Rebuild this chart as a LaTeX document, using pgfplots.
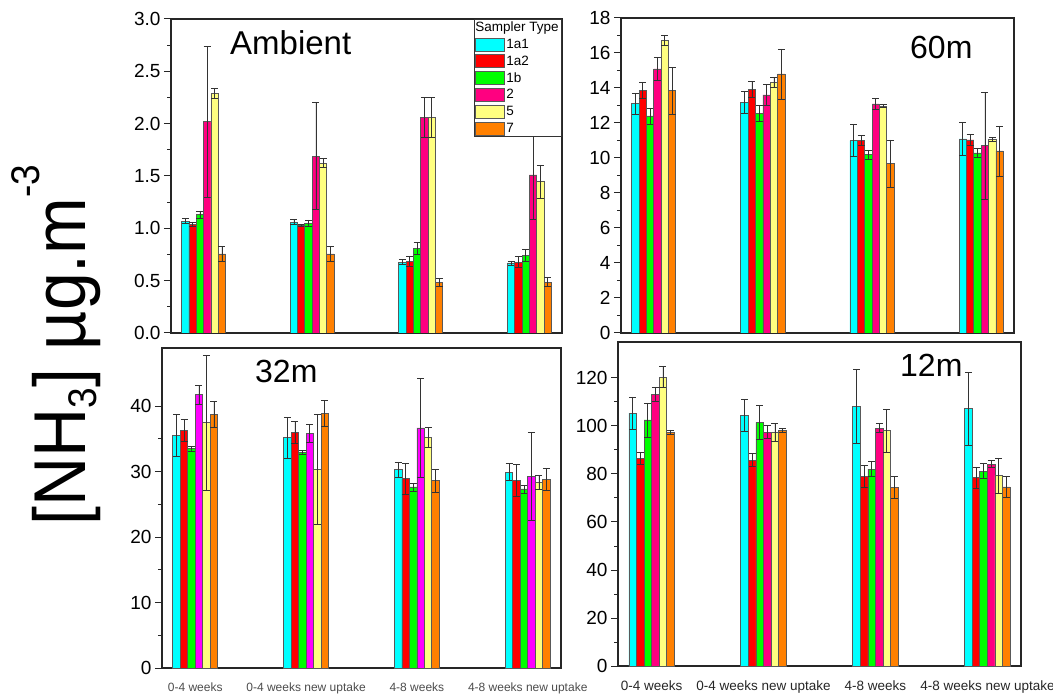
\documentclass[border=0pt]{standalone}
\usepackage{pgfplots}
\pgfplotsset{compat=1.18}
\usepackage{pgfplotstable}
\usepackage{fontspec}
\setmainfont{Liberation Sans}

\definecolor{cA}{RGB}{0,255,255}
\definecolor{cB}{RGB}{255,0,0}
\definecolor{cC}{RGB}{0,255,0}
\definecolor{cD}{RGB}{255,0,128}
\definecolor{cDm}{RGB}{255,0,255}
\definecolor{cE}{RGB}{255,255,128}
\definecolor{cF}{RGB}{255,128,0}

% x a1 ea1 a2 ea2 b eb s2 e2 s5 e5 s7 e7
\pgfplotstableread{
x a1 ea1 a2 ea2 b eb s2 e2 s5 e5 s7 e7
0 1.07 0.025 1.04 0.02 1.13 0.03 2.02 0.72 2.29 0.045 0.755 0.075
1 1.06 0.025 1.03 0.01 1.05 0.03 1.69 0.51 1.624 0.04 0.755 0.075
2 0.678 0.025 0.685 0.05 0.81 0.055 2.06 0.19 2.06 0.19 0.484 0.04
3 0.669 0.02 0.678 0.05 0.74 0.055 1.51 0.42 1.446 0.16 0.487 0.045
}\ambient
\pgfplotstableread{
x a1 ea1 a2 ea2 b eb s2 e2 s5 e5 s7 e7
0 13.1 0.59 13.85 0.45 12.4 0.46 15.09 0.67 16.74 0.29 13.85 1.33
1 13.18 0.62 13.94 0.46 12.55 0.47 13.6 0.61 14.32 0.27 14.8 1.43
2 10.99 0.92 10.99 0.29 10.19 0.27 13.09 0.32 12.97 0.07 9.68 1.35
3 11.09 0.93 11.03 0.31 10.29 0.27 10.7 3.06 11.07 0.1 10.4 1.43
}\sixty
\pgfplotstableread{
x a1 ea1 a2 ea2 b eb s2 e2 s5 e5 s7 e7
0 35.55 3.2 36.3 1.63 33.5 0.33 41.77 1.45 37.5 10.3 38.7 2.0
1 35.2 3.1 35.97 1.65 33.0 0.3 35.86 1.4 30.3 8.4 38.87 2.0
2 30.3 1.2 28.9 2.4 27.66 0.6 36.68 7.6 35.2 1.5 28.6 1.7
3 29.95 1.25 28.7 2.4 27.36 0.6 29.24 6.7 28.4 1.1 28.8 1.7
}\thirtytwo
\pgfplotstableread{
x a1 ea1 a2 ea2 b eb s2 e2 s5 e5 s7 e7
0 105.4 6.7 86.45 2.6 102.5 7.1 113.3 2.9 120.4 4.5 97.45 0.9
1 104.5 6.7 85.8 2.8 101.5 7.2 97.45 2.8 97.45 3.7 98.1 0.8
2 108.2 15.4 79.1 4.5 82.0 3.1 99.1 1.9 98.1 8.9 74.3 4.6
3 107.2 15.1 78.5 4.3 81.2 3.2 84.1 1.5 79.4 7.3 74.6 4.4
}\twelve

\pgfplotsset{
  eb/.style={draw=black!65, line width=0.8pt,
    error bars/.cd, y dir=both, y explicit,
    error bar style={line width=0.7pt, black!80},
    error mark options={rotate=90, mark size=3.5pt, line width=0.7pt, black!80}},
  sw/.style={legend image code/.code={\draw[fill=#1, draw=black!65, line width=0.8pt] (0pt,-6.5pt) rectangle (29pt,6.5pt);}},
  panel/.style={
    scale only axis, ybar=0pt, bar width=0.0675,
    xmin=-0.3, xmax=3.3, ymin=0,
    xtick={0,1,2,3}, xticklabels={},
    major x tick style={draw=none},
    ytick pos=left, tick align=outside,
    minor y tick num=1,
    major tick length=7pt, minor tick length=4pt,
    axis line style={line width=1.3pt, black!85},
    every tick/.style={line width=1pt, black!85},
    yticklabel style={font=\fontsize{19}{19}\selectfont},
    /pgf/number format/assume math mode=true,
  },
}
\newcommand\bars[2]{%
  \addplot[fill=cA, eb] table[x=x,y=a1,y error=ea1]{#1};
  \addplot[fill=cB, eb] table[x=x,y=a2,y error=ea2]{#1};
  \addplot[fill=cC, eb] table[x=x,y=b,y error=eb]{#1};
  \addplot[fill=#2, eb] table[x=x,y=s2,y error=e2]{#1};
  \addplot[fill=cE, eb] table[x=x,y=s5,y error=e5]{#1};
  \addplot[fill=cF, eb] table[x=x,y=s7,y error=e7]{#1};
}

\begin{document}
\begin{tikzpicture}
\useasboundingbox (0pt,0pt) rectangle (1053pt,697pt);

% Ambient
\begin{axis}[panel, at={(171pt,364pt)}, anchor=south west,
  width=391pt, height=314pt, ymax=3.0, ytick={0,0.5,...,3.0},
  yticklabel style={/pgf/number format/fixed, /pgf/number format/fixed zerofill, /pgf/number format/precision=1},
  legend cell align=left,
  legend style={at={(1,1)}, anchor=north east, draw=black!80, line width=0.8pt, fill=white,
    font=\fontsize{13.5}{14}\selectfont, inner xsep=1pt, inner ysep=1.5pt, row sep=3pt,
    nodes={inner sep=1.2pt, text depth=0.15em}},
]
\addlegendimage{empty legend}
\addlegendimage{sw=cA}
\addlegendimage{sw=cB}
\addlegendimage{sw=cC}
\addlegendimage{sw=cD}
\addlegendimage{sw=cE}
\addlegendimage{sw=cF}
\bars{\ambient}{cD}
\legend{\makebox[53pt][l]{\hspace{-31pt}Sampler Type},1a1,1a2,1b,2,5,7}
\end{axis}

% 60m
\begin{axis}[panel, at={(621pt,364pt)}, anchor=south west,
  width=393pt, height=315pt, ymax=18, ytick={0,2,...,18}]
\bars{\sixty}{cD}
\end{axis}

% 32m
\begin{axis}[panel, at={(162pt,29pt)}, anchor=south west,
  width=399pt, height=320pt, ymax=48.9, ytick={0,10,...,40},
  xticklabels={0-4 weeks,0-4 weeks new uptake,4-8 weeks,4-8 weeks new uptake},
  xticklabel style={font=\fontsize{12}{12}\selectfont, text=black!70, yshift=-4pt}]
\bars{\thirtytwo}{cDm}
\end{axis}

% 12m
\begin{axis}[panel, at={(618pt,31pt)}, anchor=south west,
  width=403pt, height=324pt, ymax=135, ytick={0,20,...,120},
  xticklabels={0-4 weeks,0-4 weeks new uptake,4-8 weeks,4-8 weeks new uptake},
  xticklabel style={font=\fontsize{13.5}{13.5}\selectfont, text=black!85, yshift=-4pt}]
\bars{\twelve}{cD}
\end{axis}

\node[anchor=base west, font=\fontsize{33}{33}\selectfont, inner sep=0pt] at (230pt,642pt) {Ambient};
\node[anchor=base west, font=\fontsize{32}{32}\selectfont, inner sep=0pt] at (910pt,638pt) {60m};
\node[anchor=base west, font=\fontsize{32}{32}\selectfont, inner sep=0pt] at (255pt,314pt) {32m};
\node[anchor=base west, font=\fontsize{32}{32}\selectfont, inner sep=0pt] at (900pt,320pt) {12m};
\node[rotate=90, yscale=1.08, anchor=base, inner sep=0pt, font=\fontsize{68}{68}\selectfont] at (85pt,352pt)
  {[NH\raisebox{-11pt}{\fontsize{37}{37}\selectfont 3}] µg.m\raisebox{42pt}{\fontsize{37}{37}\selectfont -3}};
\end{tikzpicture}
\end{document}
